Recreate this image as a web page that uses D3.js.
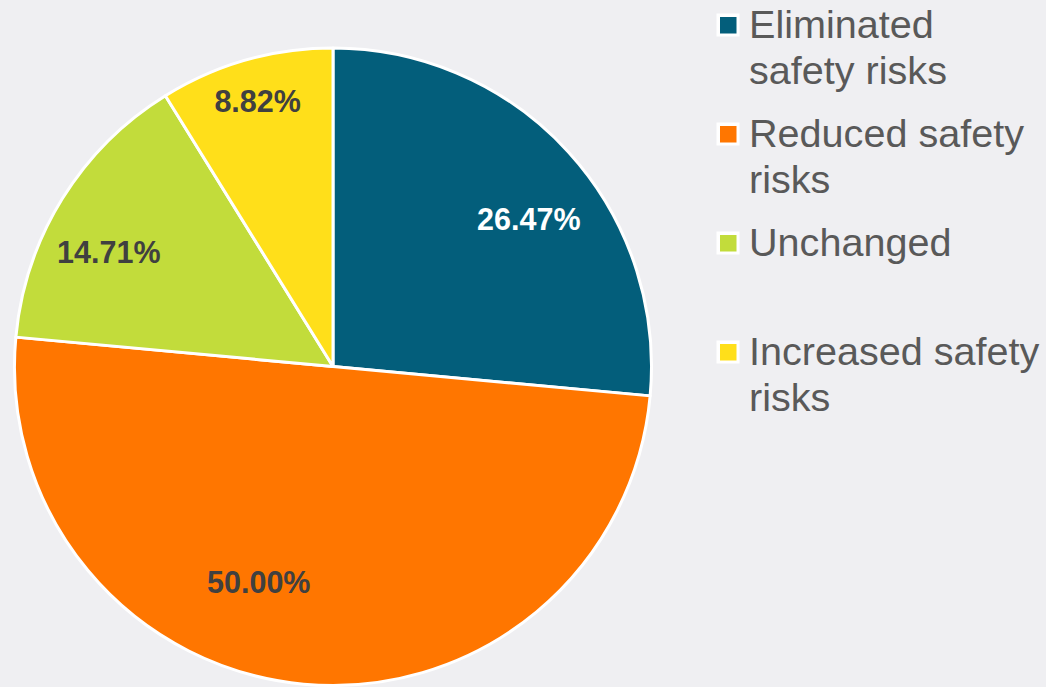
<!DOCTYPE html>
<html>
<head>
<meta charset="utf-8">
<script src="https://cdn.jsdelivr.net/npm/d3@7"></script>
<style>
  html, body { margin: 0; padding: 0; background: #efeff2; }
  svg { display: block; }
</style>
</head>
<body>
<svg id="chart" width="1046" height="687"></svg>
<script>
// Outcome shares, in percent
const categories = ["Eliminated safety risks", "Reduced safety risks", "Unchanged", "Increased safety risks"];
const shares = [26.47, 50.00, 14.71, 8.82];
const shareLabels = ["26.47%", "50.00%", "14.71%", "8.82%"];

// Styling
const colors = ["#035e7b", "#ff7600", "#c2dc3b", "#ffdf1a"];
const labelColors = ["#ffffff", "#404040", "#404040", "#404040"];
// Where each value label sits: fraction along its slice's sweep, fraction of radius
const labelSpots = [[0.556, 0.77], [0.576, 0.717], [0.41, 0.79], [0.5, 0.865]];

const svg = d3.select("#chart");
const cx = 333, cy = 366.5, radius = 318.5;

const pie = d3.pie().sort(null).value(d => d.value)
  .startAngle(0).endAngle(2 * Math.PI);
const data = categories.map((c, i) => ({ name: c, value: shares[i], i }));
const arcs = pie(data);

const arc = d3.arc().innerRadius(0).outerRadius(radius);

const g = svg.append("g").attr("transform", `translate(${cx},${cy})`);

g.selectAll("path.slice")
  .data(arcs)
  .join("path")
  .attr("class", "slice")
  .attr("d", arc)
  .attr("fill", d => colors[d.data.i])
  .attr("stroke", "#ffffff")
  .attr("stroke-width", 3)
  .attr("stroke-linejoin", "round");

g.selectAll("text.value")
  .data(arcs)
  .join("text")
  .attr("class", "value")
  .attr("transform", d => {
    const [f, rf] = labelSpots[d.data.i];
    const a = d.startAngle + (d.endAngle - d.startAngle) * f;
    const r = radius * rf;
    return `translate(${r * Math.sin(a)},${-r * Math.cos(a)})`;
  })
  .attr("text-anchor", "middle")
  .attr("dy", "0.36em")
  .attr("font-family", "'Liberation Sans', Arial, sans-serif")
  .attr("font-weight", "bold")
  .attr("font-size", 30.5)
  .attr("fill", d => labelColors[d.data.i])
  .text(d => shareLabels[d.data.i]);

// Legend on the right, two-line slot per entry
const legendX = 749, legendTop = 38, slot = 109, lineH = 45.5, maxW = 293;
const legend = svg.append("g");

function wrap(textSel, words) {
  const lines = [];
  let cur = [];
  const probe = textSel.append("tspan");
  words.forEach(w => {
    const test = cur.concat(w).join(" ");
    probe.text(test);
    if (probe.node().getComputedTextLength() > maxW && cur.length) {
      lines.push(cur.join(" "));
      cur = [w];
    } else {
      cur.push(w);
    }
  });
  if (cur.length) lines.push(cur.join(" "));
  probe.remove();
  return lines;
}

categories.forEach((name, i) => {
  const base = legendTop + i * slot;
  const item = legend.append("g");
  item.append("rect")
    .attr("x", 716.5).attr("y", base - 24.5)
    .attr("width", 23).attr("height", 23)
    .attr("fill", "#ffffff");
  item.append("rect")
    .attr("x", 720).attr("y", base - 21)
    .attr("width", 16.5).attr("height", 16.5)
    .attr("fill", colors[i]);
  const t = item.append("text")
    .attr("x", legendX).attr("y", base)
    .attr("font-family", "'Liberation Sans', Arial, sans-serif")
    .attr("font-size", 39.6)
    .attr("fill", "#595959");
  const lines = wrap(t, name.split(" "));
  lines.forEach((ln, k) => {
    t.append("tspan").attr("x", legendX).attr("y", base + k * lineH).text(ln);
  });
});
</script>
</body>
</html>
